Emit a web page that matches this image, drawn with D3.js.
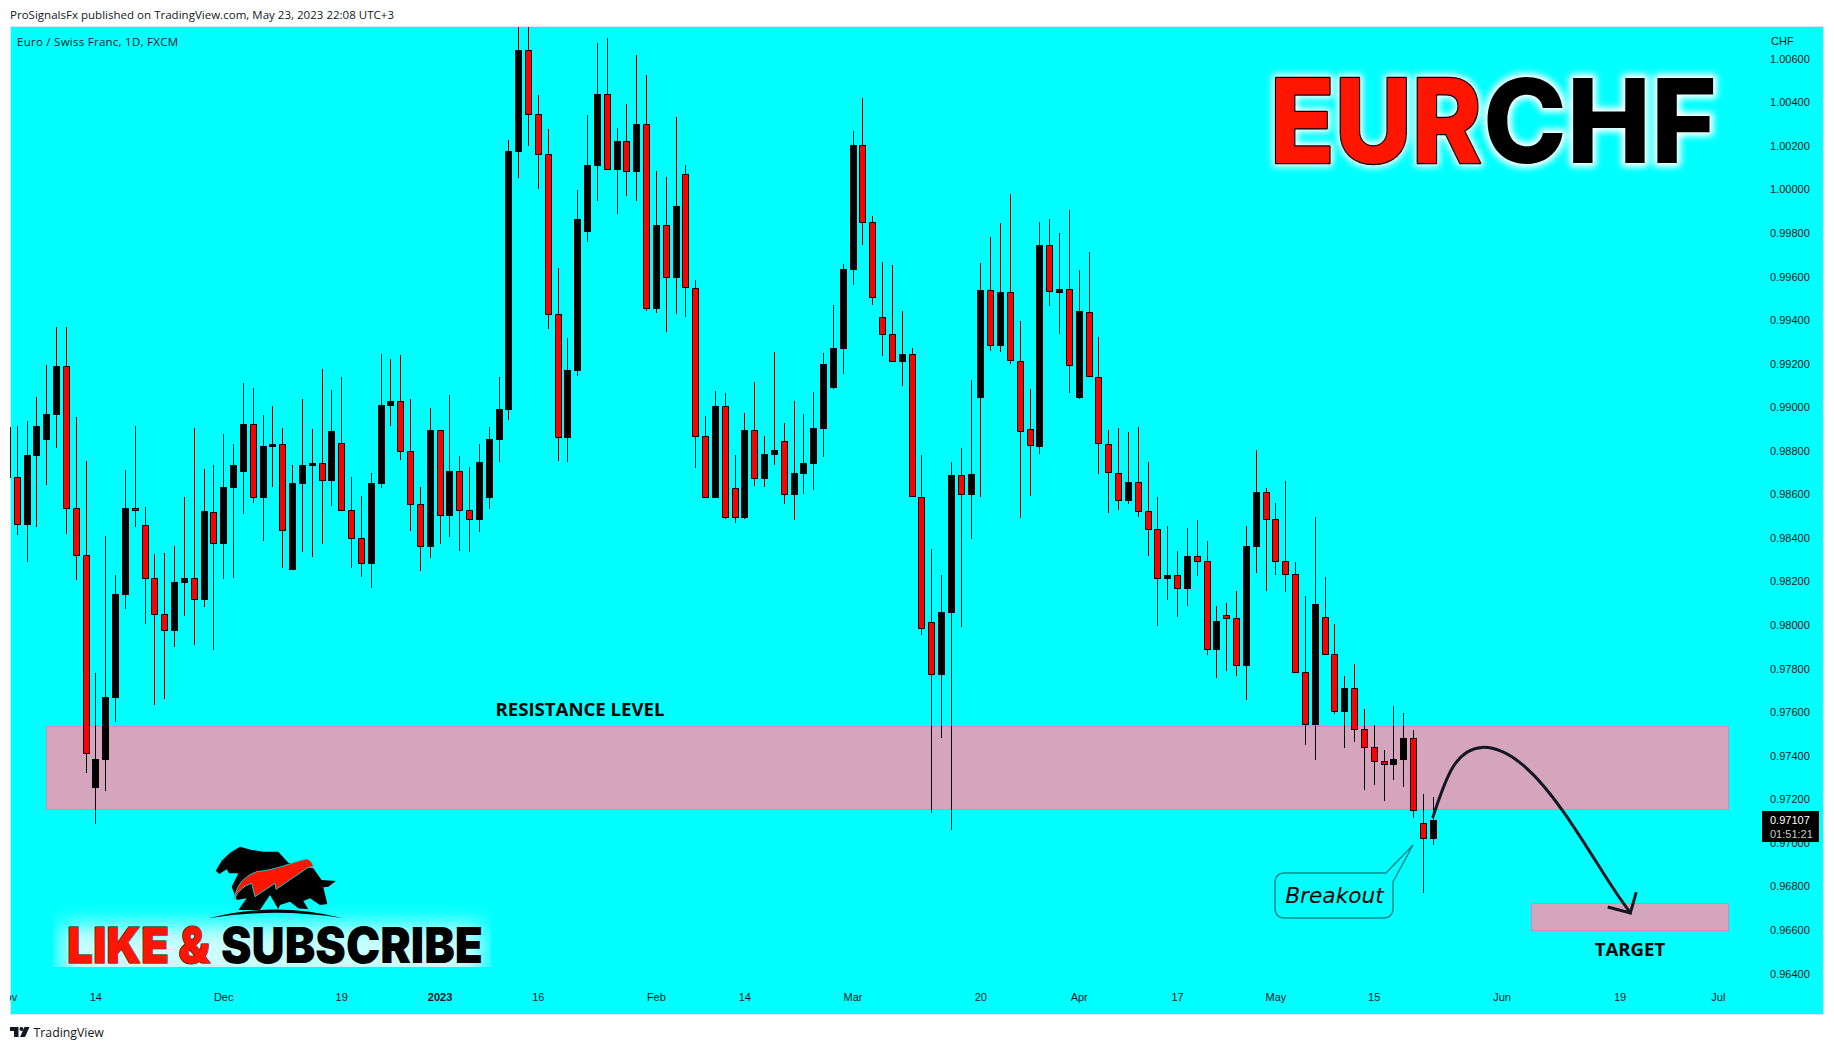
<!DOCTYPE html>
<html>
<head>
<meta charset="utf-8">
<script src="https://cdn.jsdelivr.net/npm/d3@7"></script>
<style>
html,body{margin:0;padding:0;background:#fff;overflow:hidden}
svg{display:block}
text{font-family:"Liberation Sans",Arial,sans-serif;fill:#131722}
</style>
</head>
<body>
<svg id="c" width="1834" height="1050"></svg>
<script>
// Daily EUR/CHF bars, values in 1/100000 CHF. First entry is the bar cut by the left edge.
const highs=[98910,98913,98937,99046,99193,99369,99369,98954,98754,97780,98409,98229,98711,98913,98542,98325,98330,98363,98588,98904,98716,98735,98877,98831,99111,99087,98964,99005,98904,98735,99038,98900,99175,99079,99139,98679,98592,98698,99244,99221,99240,99038,98634,98996,98894,99056,98776,98725,98831,98909,99139,100227,100790,100790,100434,100278,99639,99318,99998,100342,100672,100695,100282,100392,100617,100525,100085,100057,100333,100112,99584,98960,99075,99064,98779,98972,99116,98868,99254,98928,99029,98969,99070,99249,99469,99658,100268,100420,99877,99667,99652,99440,99271,98780,98348,98230,98748,98813,99124,99661,99781,99846,99979,99396,99082,99850,99863,99799,99906,99630,99712,99323,98895,98904,98886,98909,98748,98588,98455,98340,98445,98482,98386,98087,98101,98156,98455,98803,98629,98560,98661,98289,98133,98496,98220,98004,97766,97821,97614,97541,97426,97628,97596,97518,97224,97210];
const opens=[98910,98678,98461,98776,98849,98964,99188,98536,98320,97252,97380,97664,98137,98537,98458,98215,98049,97973,98192,98215,98115,98521,98371,98629,98703,98921,98583,98817,98830,98253,98647,98730,98742,98661,98834,98526,98398,98280,98647,99005,99027,98797,98554,98358,98894,98500,98705,98526,98482,98583,98849,98988,100172,100639,100345,100161,99427,98859,99167,99805,100108,100437,100089,100221,100080,100299,99451,99835,99594,100069,99546,98867,98583,99004,98628,98492,98894,98671,98781,98844,98597,98694,98739,98900,99088,99267,99630,100204,99850,99416,99334,99207,99242,98586,98012,97769,98054,98688,98597,99042,99536,99280,99527,99214,98902,98817,99743,99525,99541,99042,99438,99140,98833,98699,98568,98655,98523,98439,98211,98228,98165,98315,98292,97885,98044,98031,97812,98358,98609,98485,98292,98232,97782,97541,98039,97865,97600,97709,97521,97438,97374,97357,97380,97479,97089,97017];
const closes=[98676,98461,98781,98913,98969,99188,98534,98319,97410,97385,97669,98142,98537,98524,98213,98047,97974,98197,98216,98117,98523,98373,98634,98735,98923,98585,98822,98831,98433,98653,98734,98744,98663,98891,98525,98396,98282,98652,99010,99028,98796,98552,98360,98895,98500,98707,98525,98484,98748,98854,98992,100177,100640,100342,100160,99424,98859,99171,99864,100112,100438,100089,100223,100080,100301,99453,99837,99595,99924,99545,98865,98585,99006,98493,98493,98896,98672,98785,98804,98599,98698,98744,98905,99199,99272,99635,100204,99846,99503,99331,99209,99245,98586,97983,97771,98059,98688,98597,98693,99538,99280,99530,99214,98884,98820,99745,99527,99543,99187,99440,99140,98833,98699,98570,98657,98521,98438,98213,98230,98167,98317,98291,97887,98018,98029,97813,98363,98610,98483,98290,98231,97781,97542,98096,97863,97602,97709,97519,97437,97372,97358,97385,97481,97147,97019,97107];
const lows=[98676,98414,98289,98452,98643,98812,98419,98207,97321,97086,97237,97555,98074,98452,98004,97634,97658,97898,98041,97908,98083,97886,98211,98216,98510,98561,98385,98634,98262,98253,98335,98312,98372,98546,98525,98262,98220,98170,98629,98914,98757,98432,98248,98308,98372,98404,98340,98335,98427,98532,98748,98942,100053,100200,100002,99359,98753,98749,99144,99759,99947,100089,99887,99970,99947,99442,99433,99346,99428,99414,98721,98585,98583,98487,98469,98487,98638,98634,98735,98556,98482,98602,98620,98772,99084,99153,99561,99745,99469,99236,99209,99098,98586,97954,97139,97480,97059,97990,98395,98588,99260,99254,99200,98490,98593,98784,99465,99334,99064,99038,99140,98693,98515,98528,98555,98495,98317,97995,98115,98037,98087,98225,97862,97757,97789,97766,97656,98238,98156,98229,98151,97781,97449,97380,97863,97591,97435,97463,97242,97265,97192,97288,97256,97114,96769,96990];
const firstBar=-1;

const priceTicks=[0.964,0.966,0.968,0.970,0.972,0.974,0.976,0.978,0.980,0.982,0.984,0.986,0.988,0.990,0.992,0.994,0.996,0.998,1.000,1.002,1.004,1.006];
const timeTickBars=[-1,8,21,33,43,53,65,74,85,98,108,118,128,138,151,163,173];
const timeTickLabels=["Nov","14","Dec","19","2023","16","Feb","14","Mar","20","Apr","17","May","15","Jun","19","Jul"];

// Drawn zones: [first bar, last bar, upper price, lower price]
const resistanceZone=[3,174.1,0.97535,0.97149];
const targetZone=[154,174.1,0.96722,0.96594];
// Projected path: bar index and price of each point
const arrowBars=[144.03,146.06,149,152.9,157.3,161.8,164.1];
const arrowPrices=[0.97119,0.97348,0.97438,0.97367,0.97142,0.96829,0.96678];
const arrowHeadBars=[161.8,164.1,164.7];
const arrowHeadPrices=[0.96705,0.96678,0.96774];

const bars=highs.map((h,i)=>({i:i+firstBar,h:h/1e5,o:opens[i]/1e5,c:closes[i]/1e5,l:lows[i]/1e5}));

const svg=d3.select("#c");
const plot={l:10,t:27,r:1823,b:1014};
const x=d3.scaleLinear().domain([0,144]).range([16.7,1432.7]);
const y=d3.scaleLinear().domain([0.964,1.006]).range([973.5,58.7]);
const col=i=>Math.round(x(i));
const ry=p=>Math.round(y(p));

const defs=svg.append("defs");
defs.append("clipPath").attr("id","plotClip").append("rect")
  .attr("x",plot.l).attr("y",plot.t).attr("width",plot.r-plot.l).attr("height",plot.b-plot.t);
defs.append("clipPath").attr("id","banClip").append("rect").attr("x",53).attr("y",880).attr("width",438).attr("height",87);
const glow=defs.append("filter").attr("id","glow").attr("x","-10%").attr("y","-30%").attr("width","120%").attr("height","160%");
glow.append("feGaussianBlur").attr("stdDeviation",3);
const glow2=defs.append("filter").attr("id","soft").attr("x","-15%").attr("y","-60%").attr("width","130%").attr("height","220%");
glow2.append("feGaussianBlur").attr("stdDeviation",11);

// Header
svg.append("text").attr("x",10).attr("y",18.5).style("font-family","'Open Sans'").style("font-size","11.5px")
  .attr("textLength",384).attr("lengthAdjust","spacing").text("ProSignalsFx published on TradingView.com, May 23, 2023 22:08 UTC+3");

// Plot background
svg.append("rect").attr("x",plot.l+.5).attr("y",plot.t-.5).attr("width",plot.r-plot.l).attr("height",plot.b-plot.t+1)
  .attr("fill","#00ffff").attr("stroke","#d6e9ee").attr("stroke-width",1);

const g=svg.append("g").attr("clip-path","url(#plotClip)");

// Zones
[resistanceZone,targetZone].forEach(z=>{
  g.append("rect").attr("x",Math.round(x(z[0]))+.5).attr("y",ry(z[2])+.5)
   .attr("width",Math.round(x(z[1]))-Math.round(x(z[0]))-1).attr("height",ry(z[3])-ry(z[2])-1)
   .attr("fill","#d5a5be").attr("stroke","#dc84be").attr("stroke-width",1).attr("shape-rendering","crispEdges");
});

// Candles
const cg=g.append("g").attr("shape-rendering","crispEdges");
cg.selectAll("line.w").data(bars).join("line").attr("class","w")
  .attr("x1",d=>col(d.i)+.5).attr("x2",d=>col(d.i)+.5)
  .attr("y1",d=>ry(d.h)).attr("y2",d=>ry(d.l))
  .attr("stroke","#000").attr("stroke-width",1);
cg.selectAll("rect.b").data(bars).join("rect").attr("class","b")
  .attr("x",d=>col(d.i)-2.5).attr("width",6)
  .attr("y",d=>ry(Math.max(d.o,d.c))+.5)
  .attr("height",d=>Math.max(1,ry(Math.min(d.o,d.c))-ry(Math.max(d.o,d.c))-1))
  .attr("fill",d=>d.c<d.o?"#ff0000":"#000000")
  .attr("stroke","#000").attr("stroke-width",1);

// Arrow
const lineGen=d3.line().x(d=>x(d[0])).y(d=>y(d[1])).curve(d3.curveNatural);
svg.append("path").attr("d",lineGen(arrowBars.map((b,i)=>[b,arrowPrices[i]])))
  .attr("fill","none").attr("stroke","#131722").attr("stroke-width",3).attr("stroke-linecap","round");
svg.append("path").attr("d",d3.line().x(d=>x(d[0])).y(d=>y(d[1]))(arrowHeadBars.map((b,i)=>[b,arrowHeadPrices[i]])))
  .attr("fill","none").attr("stroke","#131722").attr("stroke-width",3).attr("stroke-linejoin","miter");

// Labels on chart
svg.append("text").attr("x",580).attr("y",715.5).attr("text-anchor","middle")
  .style("font-family","'Open Sans'").style("font-weight",700).style("font-size","18.6px").style("fill","#000").text("RESISTANCE LEVEL");
svg.append("text").attr("x",1630).attr("y",955.5).attr("text-anchor","middle")
  .style("font-family","'Open Sans'").style("font-weight",700).style("font-size","18.6px").style("fill","#000").text("TARGET");

// Callout
svg.append("path").attr("d","M1285,873 H1386 L1413,845 L1393,882 V908 Q1393,918 1383,918 H1285 Q1275,918 1275,908 V883 Q1275,873 1285,873 Z")
  .attr("fill","#00ffff").attr("stroke","#0b8a8e").attr("stroke-width",1.5);
svg.append("text").attr("x",1334.5).attr("y",902.5).attr("text-anchor","middle")
  .style("font-family","'DejaVu Sans'").style("font-style","italic").style("font-size","21.7px").style("fill","#000").text("Breakout");

// Time axis
const axisX=svg.append("g").attr("clip-path","url(#plotClip)").append("g").attr("transform","translate(0,993)")
  .call(d3.axisBottom(d3.scaleLinear().domain(x.domain()).range(x.range())).tickValues(timeTickBars).tickSize(0).tickPadding(0).tickFormat((d,i)=>timeTickLabels[i]));
axisX.select(".domain").remove();
axisX.selectAll("text").style("font-family","'Liberation Sans'").style("font-size","11px").style("fill","#131722")
  .attr("dy","0.71em").style("font-weight",(d,i)=>timeTickLabels[i]==="2023"?700:400);

// Price axis
const axisY=svg.append("g").attr("transform","translate(1770,0)")
  .call(d3.axisRight(y).tickValues(priceTicks).tickSize(0).tickPadding(0).tickFormat(d3.format(".5f")));
axisY.select(".domain").remove();
axisY.selectAll("text").style("font-family","'Liberation Sans'").style("font-size","11px").style("fill","#131722");
svg.append("text").attr("x",1771).attr("y",45).style("font-size","11px").text("CHF");

// Last price tag
svg.append("rect").attr("x",1762).attr("y",811).attr("width",57).attr("height",31).attr("fill","#000");
svg.append("text").attr("x",1770).attr("y",824).style("font-size","11px").style("fill","#fff").text(d3.format(".5f")(closes[closes.length-1]/1e5));
svg.append("text").attr("x",1770).attr("y",837.5).style("font-size","11px").style("fill","#c8c8c8").text("01:51:21");

// Symbol line
svg.append("text").attr("x",17).attr("y",46).style("font-family","'Open Sans'").style("font-size","11.5px")
  .attr("textLength",161).attr("lengthAdjust","spacing").text("Euro / Swiss Franc, 1D, FXCM");

// Big title
function bigText(parent,xpos,yb,size,str,fill,stroke,sw,len,weight){
  const t=parent.append("text").attr("x",xpos).attr("y",yb).text(str)
    .style("font-family","Inter").style("font-weight",weight).style("font-size",size+"px").style("fill",fill)
    .attr("textLength",len).attr("lengthAdjust","spacingAndGlyphs");
  if(stroke) t.style("stroke",stroke).style("stroke-width",sw).style("stroke-linejoin","round").style("paint-order","stroke");
  return t;
}
const gl=svg.append("g").attr("filter","url(#glow)");
bigText(gl,1270,163,117,"EUR","#fff","#fff",8,212,800);
bigText(gl,1483,163,117,"CHF","#fff","#fff",8,234,800);
bigText(svg,1270,163,117,"EUR","#ff1500","#000",2.5,212,800);
bigText(svg,1483,163,117,"CHF","#000",null,0,234,800);

// Subscribe banner
const ban=svg.append("g");
ban.append("g").attr("clip-path","url(#banClip)").append("rect").attr("x",62).attr("y",925).attr("width",420).attr("height",60).attr("fill","#fff").attr("opacity",.8).attr("filter","url(#soft)");
bigText(ban,67,963,50,"LIKE &","#ff1500","#000",1,143,900);
bigText(ban,221,963,50,"SUBSCRIBE","#000",null,0,262,900);

// Bull and bear logo
const logo=svg.append("g").attr("transform","translate(30,830) scale(0.33333)");
logo.append("path").attr("fill","#000").attr("d","M557,122 L575,92 L600,68 L630,50 L665,60 L700,65 L745,65 L775,98 L850,115 L875,150 L918,153 L895,170 L880,172 L892,222 L870,225 L840,205 L820,213 L835,238 L805,235 L780,215 L750,225 L745,238 L720,195 L690,240 L625,240 L650,205 L620,210 L605,170 L625,130 L597,130 L590,118 L568,132 Z");
logo.append("path").attr("fill","#ff1500").attr("stroke","#19c8c8").attr("stroke-width",3).attr("d","M612,208 C620,165 640,140 680,125 C740,120 790,95 830,87 Q845,90 850,110 L835,112 L738,178 L735,160 L675,200 L665,160 Q630,170 612,208 Z");
logo.append("path").attr("fill","#000").attr("d","M535,265 Q735,212 940,265 Q735,232 535,265 Z");

// Footer
const tv=svg.append("g").attr("fill","#131722");
tv.append("path").attr("d","M10,1027 H18.5 V1037 H14 V1031 H10 Z");
tv.append("circle").attr("cx",21.5).attr("cy",1029).attr("r",2);
tv.append("path").attr("d","M24.5,1027 H29.5 L25,1037 H20 Z");
svg.append("text").attr("x",33.5).attr("y",1037).style("font-family","'Open Sans'").style("font-size","12.3px").text("TradingView");
</script>
</body>
</html>
